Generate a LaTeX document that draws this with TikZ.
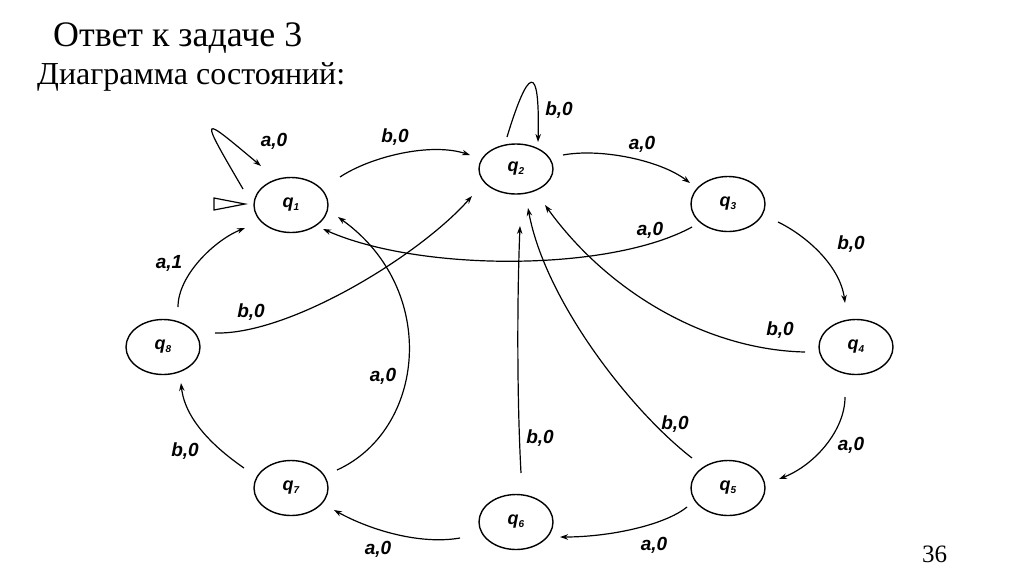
\documentclass[tikz,border=0pt]{standalone}
\usepackage{fontspec}
\setmainfont{Liberation Serif}
\newfontfamily\lblfont{Liberation Sans}
\usetikzlibrary{arrows.meta,calc,shapes.geometric}
\tikzset{
  stnode/.style={ellipse, draw, line width=1.4pt, minimum width=74pt, minimum height=55pt, inner sep=0pt,
    font=\lblfont\bfseries\itshape\fontsize{18}{18}\selectfont},
  edge/.style={line width=1.2pt, -{Stealth[length=8pt,width=5.5pt]}},
  elabel/.style={font=\lblfont\bfseries\itshape\fontsize{19}{19}\selectfont, inner sep=0pt},
  initmark/.style={draw, line width=1.2pt, fill=white},
}
\newcommand{\qsub}[1]{q\raisebox{-3pt}{\fontsize{10}{10}\selectfont #1}}
\begin{document}
\begin{tikzpicture}[x=1pt,y=-1pt]
\useasboundingbox (0,0) rectangle (1024,574);
\fill[white] (0,0) rectangle (1024,574);

% titles
\node[anchor=base west, inner sep=0pt] (t1) at (53,46) {\resizebox{249pt}{!}{\fontsize{31}{31}\selectfont Ответ к задаче 3}};
\node[anchor=base west, inner sep=0pt] (t2) at (37,84) {\resizebox{308pt}{!}{\fontsize{26}{26}\selectfont Диаграмма состояний:}};
\node[anchor=base west, inner sep=0pt] (pg) at (922,562) {\fontsize{25}{25}\selectfont 36};

% states
\node[stnode] (q1) at (291,205) {\qsub{1}};
\node[stnode, minimum height=50pt] (q2) at (516,169) {\qsub{2}};
\node[stnode] (q3) at (728,204) {\qsub{3}};
\node[stnode] (q4) at (856,347) {\qsub{4}};
\node[stnode] (q5) at (728,488) {\qsub{5}};
\node[stnode] (q6) at (516,522) {\qsub{6}};
\node[stnode] (q7) at (291,488) {\qsub{7}};
\node[stnode] (q8) at (163,347) {\qsub{8}};

% initial marker
\draw[initmark] ($(q1)+(-77,-7)$) -- ($(q1)+(-77,5)$) -- ($(q1)+(-46,-1)$) -- cycle;

% edges
\draw[edge] ($(q1)+(49,-28)$) .. controls (370,157) and (430,142) .. ($(q2)+(-46,-14)$);
\draw[edge] ($(q2)+(47,-14)$) .. controls (600,148) and (660,160) .. ($(q3)+(-38,-21)$);
\draw[edge] ($(q3)+(-36,23)$) .. controls (610,272) and (420,272) .. ($(q1)+(32,24)$);
\draw[edge] ($(q3)+(50,18)$) .. controls (805,235) and (840,265) .. ($(q4)+(-11,-44)$);
\draw[edge] ($(q4)+(-51,5)$) .. controls (710,350) and (610,295) .. ($(q2)+(29,36)$);
\draw[edge] ($(q4)+(-11,50)$) .. controls (845,430) and (815,465) .. ($(q5)+(51,-9)$);
\draw[edge] ($(q5)+(-36,-30)$) .. controls (630,410) and (545,300) .. ($(q2)+(12,39)$);
\draw[edge] ($(q5)+(-41,19)$) .. controls (665,525) and (610,537) .. ($(q6)+(44,15)$);
\draw[edge] ($(q6)+(5,-49)$) .. controls (517,400) and (517,300) .. ($(q2)+(4,57)$);
\draw[edge] ($(q6)+(-56,16)$) .. controls (420,545) and (370,530) .. ($(q7)+(43,22)$);
\draw[edge] ($(q7)+(-47,-20)$) .. controls (215,448) and (185,420) .. ($(q8)+(18,36)$);
\draw[edge] ($(q7)+(46,-18)$) .. controls (425,430) and (440,290) .. ($(q1)+(47,12)$);
\draw[edge] ($(q8)+(15,-40)$) .. controls (178,275) and (215,240) .. ($(q1)+(-46,23)$);
\draw[edge] ($(q8)+(52,-14)$) .. controls (290,335) and (420,255) .. ($(q2)+(-44,27)$);
\draw[edge] ($(q1)+(-48,-16)$) .. controls (198,112) and (200,115) .. ($(q1)+(-30,-39)$);
\draw[edge] ($(q2)+(-9,-32)$) .. controls (528,68) and (540,60) .. ($(q2)+(22,-27)$);

% labels
\node[elabel] (l1) at (274,141) {a,0};
\node[elabel] (l2) at (395,137) {b,0};
\node[elabel] (l3) at (559,110) {b,0};
\node[elabel] (l4) at (642,144) {a,0};
\node[elabel] (l5) at (650,230) {a,0};
\node[elabel] (l6) at (851,244) {b,0};
\node[elabel] (l7) at (780,330) {b,0};
\node[elabel] (l8) at (851,445) {a,0};
\node[elabel] (l9) at (675,424) {b,0};
\node[elabel] (l10) at (654,545) {a,0};
\node[elabel] (l11) at (540,438) {b,0};
\node[elabel] (l12) at (378,549) {a,0};
\node[elabel] (l13) at (185,451) {b,0};
\node[elabel] (l14) at (383,376) {a,0};
\node[elabel] (l15) at (169,263) {a,1};
\node[elabel] (l16) at (251,312) {b,0};
\end{tikzpicture}
\end{document}
